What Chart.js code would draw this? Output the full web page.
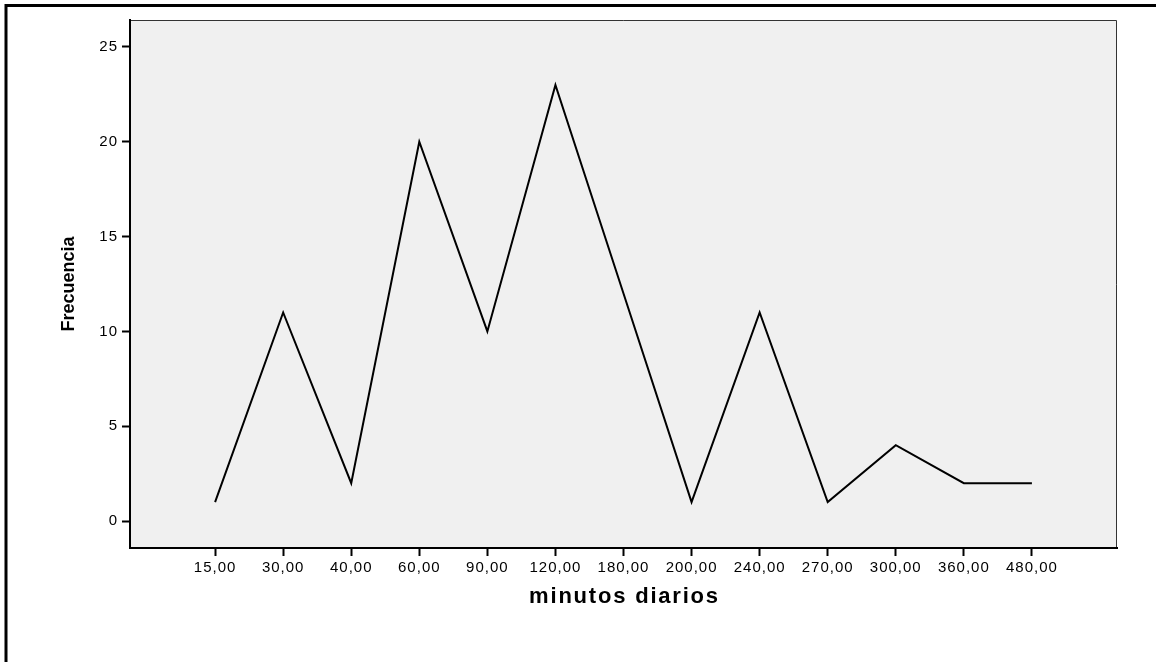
<!DOCTYPE html>
<html>
<head>
<meta charset="utf-8">
<script src="https://cdn.jsdelivr.net/npm/chart.js@4"></script>
<style>
  html, body { margin: 0; padding: 0; background: #fff; }
  #wrap { width: 1156px; height: 662px; position: relative; }
</style>
</head>
<body>
<div id="wrap"><canvas id="lineChart"></canvas></div>
<script>
// datos
const categorias = ['15,00', '30,00', '40,00', '60,00', '90,00', '120,00', '180,00',
                    '200,00', '240,00', '270,00', '300,00', '360,00', '480,00'];
const frecuencias = [1, 11, 2, 20, 10, 23, 12, 1, 11, 1, 4, 2, 2];
const ticksY = [0, 5, 10, 15, 20, 25];
const tituloX = 'minutos diarios';
const tituloY = 'Frecuencia';

const puntos = frecuencias.map((v, i) => ({ x: i, y: v }));
const fuente = 'Liberation Sans, Arial, sans-serif';

// fondo gris, marco exterior y titulos de los ejes
const fondoPlugin = {
    id: 'fondo',
    beforeLayout(chart) {
        chart.ctx.letterSpacing = '1px';
    },
    beforeDraw(chart) {
        const { ctx, chartArea: a } = chart;
        ctx.letterSpacing = '1px';
        ctx.save();
        ctx.fillStyle = '#f0f0f0';
        ctx.fillRect(a.left, a.top, a.right - a.left, a.bottom - a.top);
        ctx.strokeStyle = '#333';
        ctx.lineWidth = 1;
        ctx.beginPath();
        ctx.moveTo(a.left, a.top + 0.5);
        ctx.lineTo(a.right - 0.5, a.top + 0.5);
        ctx.lineTo(a.right - 0.5, a.bottom);
        ctx.stroke();
        ctx.restore();
    },
    afterDraw(chart) {
        const { ctx, chartArea: a } = chart;
        ctx.save();
        ctx.strokeStyle = '#000';
        ctx.lineWidth = 3;
        ctx.beginPath();
        ctx.moveTo(6, 662);
        ctx.lineTo(6, 5.5);
        ctx.lineTo(1156, 5.5);
        ctx.stroke();

        ctx.fillStyle = '#000';
        ctx.textAlign = 'center';
        ctx.textBaseline = 'middle';
        ctx.letterSpacing = '1.8px';
        ctx.font = 'bold 22px ' + fuente;
        ctx.fillText(tituloX, (a.left + a.right) / 2 + 1, 597);

        ctx.letterSpacing = '0px';
        ctx.font = 'bold 18px ' + fuente;
        ctx.translate(69, (a.top + a.bottom) / 2);
        ctx.rotate(-Math.PI / 2);
        ctx.fillText(tituloY, 0, 0);
        ctx.restore();
    }
};

const ctx = document.getElementById('lineChart').getContext('2d');
const myChart = new Chart(ctx, {
    type: 'line',
    data: {
        datasets: [{
            label: tituloY,
            data: puntos,
            fill: false,
            borderColor: '#000',
            borderWidth: 2,
            tension: 0,
            pointRadius: 0
        }]
    },
    options: {
        responsive: true,
        maintainAspectRatio: false,
        animation: false,
        layout: { padding: { left: 48, top: 20, right: 39, bottom: 54 } },
        plugins: { legend: { display: false }, tooltip: { enabled: false } },
        scales: {
            x: {
                type: 'linear',
                min: -1.25,
                max: 13.25,
                afterBuildTicks: s => { s.ticks = categorias.map((c, i) => ({ value: i })); },
                afterFit: s => { s.height = 60; },
                ticks: {
                    autoSkip: false,
                    maxRotation: 0,
                    padding: 3,
                    color: '#000',
                    font: { family: fuente, size: 15 },
                    callback: v => categorias[v]
                },
                grid: { drawOnChartArea: false, tickLength: 8, tickWidth: 2, tickColor: '#000' },
                border: { color: '#000', width: 2 }
            },
            y: {
                min: -1.42,
                max: 26.42,
                afterBuildTicks: s => { s.ticks = ticksY.map(v => ({ value: v })); },
                afterFit: s => { s.width = 82; },
                ticks: {
                    padding: 4,
                    color: '#000',
                    font: { family: fuente, size: 15 }
                },
                grid: { drawOnChartArea: false, tickLength: 8, tickWidth: 2, tickColor: '#000' },
                border: { color: '#000', width: 2 }
            }
        }
    },
    plugins: [fondoPlugin]
});
</script>
</body>
</html>
